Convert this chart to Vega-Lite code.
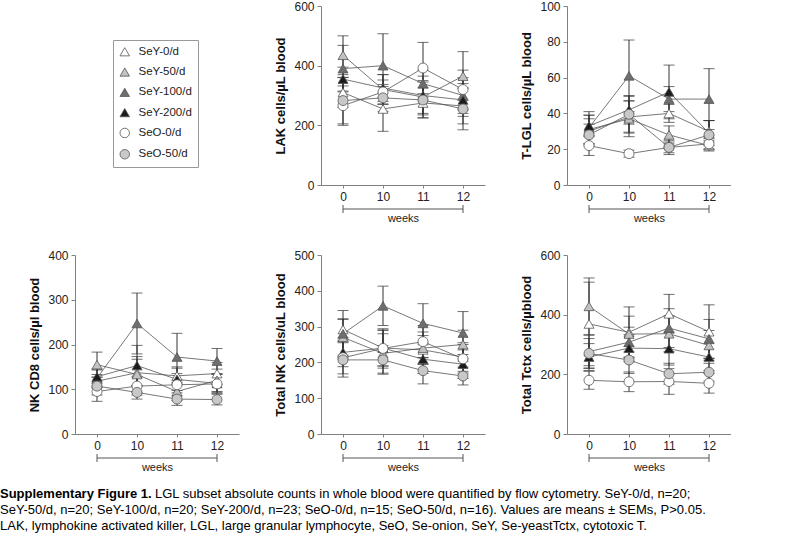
{
  "$schema": "https://vega.github.io/schema/vega-lite/v6.json",
  "padding": 0,
  "config": {
    "font": "Liberation Sans",
    "view": {"stroke": null},
    "axis": {"grid": false, "domainColor": "#808080", "tickColor": "#808080", "labelColor": "#222", "labelFontSize": 12, "titleFontSize": 13, "titleFontWeight": "bold", "titleColor": "#111", "labelFont": "Liberation Sans", "titleFont": "Liberation Sans", "labelOverlap": false},
    "legend": {"labelFont": "Liberation Sans"},
    "text": {"font": "Liberation Sans"}
  },
  "datasets": {
    "lak": [
      {"g": "SeY-0/d", "w": "0", "m": 310, "s": 50}, {"g": "SeY-0/d", "w": "10", "m": 255, "s": 75}, {"g": "SeY-0/d", "w": "11", "m": 275, "s": 50}, {"g": "SeY-0/d", "w": "12", "m": 265, "s": 60},
      {"g": "SeY-50/d", "w": "0", "m": 435, "s": 65}, {"g": "SeY-50/d", "w": "10", "m": 320, "s": 50}, {"g": "SeY-50/d", "w": "11", "m": 295, "s": 55}, {"g": "SeY-50/d", "w": "12", "m": 365, "s": 82},
      {"g": "SeY-100/d", "w": "0", "m": 390, "s": 78}, {"g": "SeY-100/d", "w": "10", "m": 400, "s": 107}, {"g": "SeY-100/d", "w": "11", "m": 340, "s": 45}, {"g": "SeY-100/d", "w": "12", "m": 300, "s": 60},
      {"g": "SeY-200/d", "w": "0", "m": 355, "s": 40}, {"g": "SeY-200/d", "w": "10", "m": 325, "s": 45}, {"g": "SeY-200/d", "w": "11", "m": 300, "s": 65}, {"g": "SeY-200/d", "w": "12", "m": 285, "s": 55},
      {"g": "SeO-0/d", "w": "0", "m": 266, "s": 66}, {"g": "SeO-0/d", "w": "10", "m": 312, "s": 40}, {"g": "SeO-0/d", "w": "11", "m": 392, "s": 86}, {"g": "SeO-0/d", "w": "12", "m": 320, "s": 65},
      {"g": "SeO-50/d", "w": "0", "m": 283, "s": 78}, {"g": "SeO-50/d", "w": "10", "m": 292, "s": 45}, {"g": "SeO-50/d", "w": "11", "m": 285, "s": 60}, {"g": "SeO-50/d", "w": "12", "m": 255, "s": 70}
    ],
    "tlgl": [
      {"g": "SeY-0/d", "w": "0", "m": 30, "s": 7}, {"g": "SeY-0/d", "w": "10", "m": 38, "s": 9}, {"g": "SeY-0/d", "w": "11", "m": 40, "s": 5}, {"g": "SeY-0/d", "w": "12", "m": 30, "s": 6},
      {"g": "SeY-50/d", "w": "0", "m": 31, "s": 8}, {"g": "SeY-50/d", "w": "10", "m": 37, "s": 10}, {"g": "SeY-50/d", "w": "11", "m": 28, "s": 5}, {"g": "SeY-50/d", "w": "12", "m": 22, "s": 3},
      {"g": "SeY-100/d", "w": "0", "m": 32, "s": 9}, {"g": "SeY-100/d", "w": "10", "m": 61, "s": 20}, {"g": "SeY-100/d", "w": "11", "m": 48, "s": 7}, {"g": "SeY-100/d", "w": "12", "m": 48, "s": 17},
      {"g": "SeY-200/d", "w": "0", "m": 33, "s": 6}, {"g": "SeY-200/d", "w": "10", "m": 42, "s": 8}, {"g": "SeY-200/d", "w": "11", "m": 52, "s": 15}, {"g": "SeY-200/d", "w": "12", "m": 29, "s": 7},
      {"g": "SeO-0/d", "w": "0", "m": 22, "s": 5.5}, {"g": "SeO-0/d", "w": "10", "m": 17.5, "s": 2}, {"g": "SeO-0/d", "w": "11", "m": 21, "s": 3}, {"g": "SeO-0/d", "w": "12", "m": 23, "s": 3},
      {"g": "SeO-50/d", "w": "0", "m": 28, "s": 6}, {"g": "SeO-50/d", "w": "10", "m": 39.5, "s": 10}, {"g": "SeO-50/d", "w": "11", "m": 21, "s": 4}, {"g": "SeO-50/d", "w": "12", "m": 28, "s": 8}
    ],
    "nkcd8": [
      {"g": "SeY-0/d", "w": "0", "m": 118, "s": 15}, {"g": "SeY-0/d", "w": "10", "m": 137, "s": 30}, {"g": "SeY-0/d", "w": "11", "m": 130, "s": 20}, {"g": "SeY-0/d", "w": "12", "m": 135, "s": 25},
      {"g": "SeY-50/d", "w": "0", "m": 155, "s": 28}, {"g": "SeY-50/d", "w": "10", "m": 133, "s": 40}, {"g": "SeY-50/d", "w": "11", "m": 95, "s": 20}, {"g": "SeY-50/d", "w": "12", "m": 120, "s": 25},
      {"g": "SeY-100/d", "w": "0", "m": 125, "s": 20}, {"g": "SeY-100/d", "w": "10", "m": 247, "s": 68}, {"g": "SeY-100/d", "w": "11", "m": 172, "s": 53}, {"g": "SeY-100/d", "w": "12", "m": 163, "s": 28},
      {"g": "SeY-200/d", "w": "0", "m": 128, "s": 15}, {"g": "SeY-200/d", "w": "10", "m": 153, "s": 45}, {"g": "SeY-200/d", "w": "11", "m": 122, "s": 25}, {"g": "SeY-200/d", "w": "12", "m": 113, "s": 20},
      {"g": "SeO-0/d", "w": "0", "m": 95, "s": 22}, {"g": "SeO-0/d", "w": "10", "m": 107, "s": 20}, {"g": "SeO-0/d", "w": "11", "m": 110, "s": 25}, {"g": "SeO-0/d", "w": "12", "m": 112, "s": 22},
      {"g": "SeO-50/d", "w": "0", "m": 107, "s": 20}, {"g": "SeO-50/d", "w": "10", "m": 93, "s": 15}, {"g": "SeO-50/d", "w": "11", "m": 78, "s": 14}, {"g": "SeO-50/d", "w": "12", "m": 77, "s": 12}
    ],
    "totnk": [
      {"g": "SeY-0/d", "w": "0", "m": 292, "s": 30}, {"g": "SeY-0/d", "w": "10", "m": 240, "s": 50}, {"g": "SeY-0/d", "w": "11", "m": 235, "s": 40}, {"g": "SeY-0/d", "w": "12", "m": 215, "s": 40},
      {"g": "SeY-50/d", "w": "0", "m": 270, "s": 50}, {"g": "SeY-50/d", "w": "10", "m": 225, "s": 55}, {"g": "SeY-50/d", "w": "11", "m": 240, "s": 45}, {"g": "SeY-50/d", "w": "12", "m": 250, "s": 40},
      {"g": "SeY-100/d", "w": "0", "m": 280, "s": 65}, {"g": "SeY-100/d", "w": "10", "m": 358, "s": 55}, {"g": "SeY-100/d", "w": "11", "m": 309, "s": 55}, {"g": "SeY-100/d", "w": "12", "m": 282, "s": 60},
      {"g": "SeY-200/d", "w": "0", "m": 228, "s": 40}, {"g": "SeY-200/d", "w": "10", "m": 240, "s": 50}, {"g": "SeY-200/d", "w": "11", "m": 209, "s": 40}, {"g": "SeY-200/d", "w": "12", "m": 195, "s": 40},
      {"g": "SeO-0/d", "w": "0", "m": 213, "s": 45}, {"g": "SeO-0/d", "w": "10", "m": 239, "s": 55}, {"g": "SeO-0/d", "w": "11", "m": 258, "s": 45}, {"g": "SeO-0/d", "w": "12", "m": 210, "s": 40},
      {"g": "SeO-50/d", "w": "0", "m": 207, "s": 48}, {"g": "SeO-50/d", "w": "10", "m": 207, "s": 40}, {"g": "SeO-50/d", "w": "11", "m": 177, "s": 37}, {"g": "SeO-50/d", "w": "12", "m": 162, "s": 25}
    ],
    "tctx": [
      {"g": "SeY-0/d", "w": "0", "m": 369, "s": 140}, {"g": "SeY-0/d", "w": "10", "m": 341, "s": 85}, {"g": "SeY-0/d", "w": "11", "m": 403, "s": 65}, {"g": "SeY-0/d", "w": "12", "m": 343, "s": 90},
      {"g": "SeY-50/d", "w": "0", "m": 428, "s": 95}, {"g": "SeY-50/d", "w": "10", "m": 335, "s": 60}, {"g": "SeY-50/d", "w": "11", "m": 336, "s": 60}, {"g": "SeY-50/d", "w": "12", "m": 297, "s": 50},
      {"g": "SeY-100/d", "w": "0", "m": 276, "s": 55}, {"g": "SeY-100/d", "w": "10", "m": 308, "s": 50}, {"g": "SeY-100/d", "w": "11", "m": 355, "s": 65}, {"g": "SeY-100/d", "w": "12", "m": 319, "s": 65},
      {"g": "SeY-200/d", "w": "0", "m": 258, "s": 45}, {"g": "SeY-200/d", "w": "10", "m": 288, "s": 45}, {"g": "SeY-200/d", "w": "11", "m": 286, "s": 55}, {"g": "SeY-200/d", "w": "12", "m": 258, "s": 45},
      {"g": "SeO-0/d", "w": "0", "m": 180, "s": 30}, {"g": "SeO-0/d", "w": "10", "m": 175, "s": 33}, {"g": "SeO-0/d", "w": "11", "m": 176, "s": 43}, {"g": "SeO-0/d", "w": "12", "m": 170, "s": 33},
      {"g": "SeO-50/d", "w": "0", "m": 270, "s": 50}, {"g": "SeO-50/d", "w": "10", "m": 248, "s": 45}, {"g": "SeO-50/d", "w": "11", "m": 202, "s": 35}, {"g": "SeO-50/d", "w": "12", "m": 207, "s": 30}
    ]
  },
  "columns": 3,
  "bounds": "flush",
  "align": "all",
  "spacing": {"row": 70, "column": 82},
  "concat": [
    {"width": 164, "height": 179, "data": {"values": [{"z": 1}]}, "mark": {"type": "point", "opacity": 0}, "encoding": {}},
    {
      "data": {"name": "lak"}, "width": 164, "height": 179,
      "layer": [
        {"mark": {"type": "errorbar", "ticks": {"size": 11}, "color": "#333"},
         "encoding": {
           "x": {"field": "w", "type": "ordinal", "sort": ["0", "10", "11", "12"], "scale": {"type": "point", "padding": 0.55, "domain": ["0", "10", "11", "12"]}, "title": "weeks", "axis": {"labelAngle": 0, "tickSize": 3, "labelPadding": 3, "titlePadding": 10, "titleFontWeight": "normal", "titleFontSize": 11, "titleColor": "#222"}},
           "y": {"field": "m", "type": "quantitative", "scale": {"domain": [0, 600], "nice": false}, "title": "LAK cells/µL blood", "axis": {"values": [0, 200, 400, 600], "tickSize": 4, "labelPadding": 3, "titlePadding": 6, "labelOverlap": false, "labelBound": false}},
           "yError": {"field": "s"}}},
        {"mark": {"type": "line", "color": "#555", "strokeWidth": 0.8},
         "encoding": {"x": {"field": "w", "type": "ordinal", "sort": ["0", "10", "11", "12"], "title": "weeks"}, "y": {"field": "m", "type": "quantitative", "title": "LAK cells/µL blood", "axis": {"values": [0, 200, 400, 600], "tickSize": 4, "labelPadding": 3, "titlePadding": 6, "labelOverlap": false, "labelBound": false}}, "detail": {"field": "g"}}},
        {"mark": {"type": "point", "filled": true, "strokeWidth": 0.8, "size": 100, "opacity": 1},
         "encoding": {
           "x": {"field": "w", "type": "ordinal", "sort": ["0", "10", "11", "12"], "title": "weeks"},
           "y": {"field": "m", "type": "quantitative", "title": "LAK cells/µL blood", "axis": {"values": [0, 200, 400, 600], "tickSize": 4, "labelPadding": 3, "titlePadding": 6, "labelOverlap": false, "labelBound": false}},
           "fill": {"field": "g", "type": "nominal", "scale": {"domain": ["SeY-0/d", "SeY-50/d", "SeY-100/d", "SeY-200/d", "SeO-0/d", "SeO-50/d"], "range": ["#ffffff", "#c2c2c2", "#6e6e6e", "#1c1c1c", "#ffffff", "#c8c8c8"]}, "legend": {"title": null, "orient": "none", "legendX": 38, "legendY": 34, "strokeColor": "#999", "fillColor": "#fff", "padding": 6, "rowPadding": 7.3, "labelFontSize": 11.5, "labelColor": "#222", "labelOffset": 8, "symbolSize": 90, "symbolStrokeWidth": 0.8}},
           "stroke": {"field": "g", "type": "nominal", "scale": {"domain": ["SeY-0/d", "SeY-50/d", "SeY-100/d", "SeY-200/d", "SeO-0/d", "SeO-50/d"], "range": ["#555555", "#555555", "#555555", "#555555", "#555555", "#555555"]}, "legend": {"title": null, "orient": "none", "legendX": 38, "legendY": 34, "strokeColor": "#999", "fillColor": "#fff", "padding": 6, "rowPadding": 7.3, "labelFontSize": 11.5, "labelColor": "#222", "labelOffset": 8, "symbolSize": 90, "symbolStrokeWidth": 0.8}},
           "shape": {"field": "g", "type": "nominal", "scale": {"domain": ["SeY-0/d", "SeY-50/d", "SeY-100/d", "SeY-200/d", "SeO-0/d", "SeO-50/d"], "range": ["triangle-up", "triangle-up", "triangle-up", "triangle-up", "circle", "circle"]}, "legend": {"title": null, "orient": "none", "legendX": 38, "legendY": 34, "strokeColor": "#999", "fillColor": "#fff", "padding": 6, "rowPadding": 7.3, "labelFontSize": 11.5, "labelColor": "#222", "labelOffset": 8, "symbolSize": 90, "symbolStrokeWidth": 0.8}}}},
        {"data": {"values": [{"w": "0", "w2": "12"}]}, "mark": {"type": "rule", "color": "#555", "yOffset": 24},
         "encoding": {"x": {"field": "w", "type": "ordinal", "sort": ["0", "10", "11", "12"], "title": "weeks"}, "x2": {"field": "w2"}, "y": {"value": "height"}}},
        {"data": {"values": [{"w": "0"}, {"w": "12"}]}, "mark": {"type": "rule", "color": "#555", "yOffset": 20, "y2Offset": 28},
         "encoding": {"x": {"field": "w", "type": "ordinal", "sort": ["0", "10", "11", "12"], "title": "weeks"}, "y": {"value": "height"}, "y2": {"value": "height"}}}
      ]
    },
    {
      "data": {"name": "tlgl"}, "width": 164, "height": 179,
      "layer": [
        {"mark": {"type": "errorbar", "ticks": {"size": 11}, "color": "#333"},
         "encoding": {
           "x": {"field": "w", "type": "ordinal", "sort": ["0", "10", "11", "12"], "scale": {"type": "point", "padding": 0.55, "domain": ["0", "10", "11", "12"]}, "title": "weeks", "axis": {"labelAngle": 0, "tickSize": 3, "labelPadding": 3, "titlePadding": 10, "titleFontWeight": "normal", "titleFontSize": 11, "titleColor": "#222"}},
           "y": {"field": "m", "type": "quantitative", "scale": {"domain": [0, 100], "nice": false}, "title": "T-LGL cells/µL blood", "axis": {"values": [0, 20, 40, 60, 80, 100], "tickSize": 4, "labelPadding": 3, "titlePadding": 6, "labelOverlap": false, "labelBound": false}},
           "yError": {"field": "s"}}},
        {"mark": {"type": "line", "color": "#555", "strokeWidth": 0.8},
         "encoding": {"x": {"field": "w", "type": "ordinal", "sort": ["0", "10", "11", "12"], "title": "weeks"}, "y": {"field": "m", "type": "quantitative", "title": "T-LGL cells/µL blood", "axis": {"values": [0, 20, 40, 60, 80, 100], "tickSize": 4, "labelPadding": 3, "titlePadding": 6, "labelOverlap": false, "labelBound": false}}, "detail": {"field": "g"}}},
        {"mark": {"type": "point", "filled": true, "strokeWidth": 0.8, "size": 100, "opacity": 1},
         "encoding": {
           "x": {"field": "w", "type": "ordinal", "sort": ["0", "10", "11", "12"], "title": "weeks"},
           "y": {"field": "m", "type": "quantitative", "title": "T-LGL cells/µL blood", "axis": {"values": [0, 20, 40, 60, 80, 100], "tickSize": 4, "labelPadding": 3, "titlePadding": 6, "labelOverlap": false, "labelBound": false}},
           "fill": {"field": "g", "type": "nominal", "scale": {"domain": ["SeY-0/d", "SeY-50/d", "SeY-100/d", "SeY-200/d", "SeO-0/d", "SeO-50/d"], "range": ["#ffffff", "#c2c2c2", "#6e6e6e", "#1c1c1c", "#ffffff", "#c8c8c8"]}, "legend": {"title": null, "orient": "none", "legendX": 38, "legendY": 34, "strokeColor": "#999", "fillColor": "#fff", "padding": 6, "rowPadding": 7.3, "labelFontSize": 11.5, "labelColor": "#222", "labelOffset": 8, "symbolSize": 90, "symbolStrokeWidth": 0.8}},
           "stroke": {"field": "g", "type": "nominal", "scale": {"domain": ["SeY-0/d", "SeY-50/d", "SeY-100/d", "SeY-200/d", "SeO-0/d", "SeO-50/d"], "range": ["#555555", "#555555", "#555555", "#555555", "#555555", "#555555"]}, "legend": {"title": null, "orient": "none", "legendX": 38, "legendY": 34, "strokeColor": "#999", "fillColor": "#fff", "padding": 6, "rowPadding": 7.3, "labelFontSize": 11.5, "labelColor": "#222", "labelOffset": 8, "symbolSize": 90, "symbolStrokeWidth": 0.8}},
           "shape": {"field": "g", "type": "nominal", "scale": {"domain": ["SeY-0/d", "SeY-50/d", "SeY-100/d", "SeY-200/d", "SeO-0/d", "SeO-50/d"], "range": ["triangle-up", "triangle-up", "triangle-up", "triangle-up", "circle", "circle"]}, "legend": {"title": null, "orient": "none", "legendX": 38, "legendY": 34, "strokeColor": "#999", "fillColor": "#fff", "padding": 6, "rowPadding": 7.3, "labelFontSize": 11.5, "labelColor": "#222", "labelOffset": 8, "symbolSize": 90, "symbolStrokeWidth": 0.8}}}},
        {"data": {"values": [{"w": "0", "w2": "12"}]}, "mark": {"type": "rule", "color": "#555", "yOffset": 24},
         "encoding": {"x": {"field": "w", "type": "ordinal", "sort": ["0", "10", "11", "12"], "title": "weeks"}, "x2": {"field": "w2"}, "y": {"value": "height"}}},
        {"data": {"values": [{"w": "0"}, {"w": "12"}]}, "mark": {"type": "rule", "color": "#555", "yOffset": 20, "y2Offset": 28},
         "encoding": {"x": {"field": "w", "type": "ordinal", "sort": ["0", "10", "11", "12"], "title": "weeks"}, "y": {"value": "height"}, "y2": {"value": "height"}}}
      ]
    },
    {
      "data": {"name": "nkcd8"}, "width": 164, "height": 179,
      "layer": [
        {"mark": {"type": "errorbar", "ticks": {"size": 11}, "color": "#333"},
         "encoding": {
           "x": {"field": "w", "type": "ordinal", "sort": ["0", "10", "11", "12"], "scale": {"type": "point", "padding": 0.55, "domain": ["0", "10", "11", "12"]}, "title": "weeks", "axis": {"labelAngle": 0, "tickSize": 3, "labelPadding": 3, "titlePadding": 10, "titleFontWeight": "normal", "titleFontSize": 11, "titleColor": "#222"}},
           "y": {"field": "m", "type": "quantitative", "scale": {"domain": [0, 400], "nice": false}, "title": "NK CD8 cells/µl blood", "axis": {"values": [0, 100, 200, 300, 400], "tickSize": 4, "labelPadding": 3, "titlePadding": 6, "labelOverlap": false, "labelBound": false}},
           "yError": {"field": "s"}}},
        {"mark": {"type": "line", "color": "#555", "strokeWidth": 0.8},
         "encoding": {"x": {"field": "w", "type": "ordinal", "sort": ["0", "10", "11", "12"], "title": "weeks"}, "y": {"field": "m", "type": "quantitative", "title": "NK CD8 cells/µl blood", "axis": {"values": [0, 100, 200, 300, 400], "tickSize": 4, "labelPadding": 3, "titlePadding": 6, "labelOverlap": false, "labelBound": false}}, "detail": {"field": "g"}}},
        {"mark": {"type": "point", "filled": true, "strokeWidth": 0.8, "size": 100, "opacity": 1},
         "encoding": {
           "x": {"field": "w", "type": "ordinal", "sort": ["0", "10", "11", "12"], "title": "weeks"},
           "y": {"field": "m", "type": "quantitative", "title": "NK CD8 cells/µl blood", "axis": {"values": [0, 100, 200, 300, 400], "tickSize": 4, "labelPadding": 3, "titlePadding": 6, "labelOverlap": false, "labelBound": false}},
           "fill": {"field": "g", "type": "nominal", "scale": {"domain": ["SeY-0/d", "SeY-50/d", "SeY-100/d", "SeY-200/d", "SeO-0/d", "SeO-50/d"], "range": ["#ffffff", "#c2c2c2", "#6e6e6e", "#1c1c1c", "#ffffff", "#c8c8c8"]}, "legend": {"title": null, "orient": "none", "legendX": 38, "legendY": 34, "strokeColor": "#999", "fillColor": "#fff", "padding": 6, "rowPadding": 7.3, "labelFontSize": 11.5, "labelColor": "#222", "labelOffset": 8, "symbolSize": 90, "symbolStrokeWidth": 0.8}},
           "stroke": {"field": "g", "type": "nominal", "scale": {"domain": ["SeY-0/d", "SeY-50/d", "SeY-100/d", "SeY-200/d", "SeO-0/d", "SeO-50/d"], "range": ["#555555", "#555555", "#555555", "#555555", "#555555", "#555555"]}, "legend": {"title": null, "orient": "none", "legendX": 38, "legendY": 34, "strokeColor": "#999", "fillColor": "#fff", "padding": 6, "rowPadding": 7.3, "labelFontSize": 11.5, "labelColor": "#222", "labelOffset": 8, "symbolSize": 90, "symbolStrokeWidth": 0.8}},
           "shape": {"field": "g", "type": "nominal", "scale": {"domain": ["SeY-0/d", "SeY-50/d", "SeY-100/d", "SeY-200/d", "SeO-0/d", "SeO-50/d"], "range": ["triangle-up", "triangle-up", "triangle-up", "triangle-up", "circle", "circle"]}, "legend": {"title": null, "orient": "none", "legendX": 38, "legendY": 34, "strokeColor": "#999", "fillColor": "#fff", "padding": 6, "rowPadding": 7.3, "labelFontSize": 11.5, "labelColor": "#222", "labelOffset": 8, "symbolSize": 90, "symbolStrokeWidth": 0.8}}}},
        {"data": {"values": [{"w": "0", "w2": "12"}]}, "mark": {"type": "rule", "color": "#555", "yOffset": 24},
         "encoding": {"x": {"field": "w", "type": "ordinal", "sort": ["0", "10", "11", "12"], "title": "weeks"}, "x2": {"field": "w2"}, "y": {"value": "height"}}},
        {"data": {"values": [{"w": "0"}, {"w": "12"}]}, "mark": {"type": "rule", "color": "#555", "yOffset": 20, "y2Offset": 28},
         "encoding": {"x": {"field": "w", "type": "ordinal", "sort": ["0", "10", "11", "12"], "title": "weeks"}, "y": {"value": "height"}, "y2": {"value": "height"}}}
      ]
    },
    {
      "data": {"name": "totnk"}, "width": 164, "height": 179,
      "layer": [
        {"mark": {"type": "errorbar", "ticks": {"size": 11}, "color": "#333"},
         "encoding": {
           "x": {"field": "w", "type": "ordinal", "sort": ["0", "10", "11", "12"], "scale": {"type": "point", "padding": 0.55, "domain": ["0", "10", "11", "12"]}, "title": "weeks", "axis": {"labelAngle": 0, "tickSize": 3, "labelPadding": 3, "titlePadding": 10, "titleFontWeight": "normal", "titleFontSize": 11, "titleColor": "#222"}},
           "y": {"field": "m", "type": "quantitative", "scale": {"domain": [0, 500], "nice": false}, "title": "Total NK cells/uL blood", "axis": {"values": [0, 100, 200, 300, 400, 500], "tickSize": 4, "labelPadding": 3, "titlePadding": 6, "labelOverlap": false, "labelBound": false}},
           "yError": {"field": "s"}}},
        {"mark": {"type": "line", "color": "#555", "strokeWidth": 0.8},
         "encoding": {"x": {"field": "w", "type": "ordinal", "sort": ["0", "10", "11", "12"], "title": "weeks"}, "y": {"field": "m", "type": "quantitative", "title": "Total NK cells/uL blood", "axis": {"values": [0, 100, 200, 300, 400, 500], "tickSize": 4, "labelPadding": 3, "titlePadding": 6, "labelOverlap": false, "labelBound": false}}, "detail": {"field": "g"}}},
        {"mark": {"type": "point", "filled": true, "strokeWidth": 0.8, "size": 100, "opacity": 1},
         "encoding": {
           "x": {"field": "w", "type": "ordinal", "sort": ["0", "10", "11", "12"], "title": "weeks"},
           "y": {"field": "m", "type": "quantitative", "title": "Total NK cells/uL blood", "axis": {"values": [0, 100, 200, 300, 400, 500], "tickSize": 4, "labelPadding": 3, "titlePadding": 6, "labelOverlap": false, "labelBound": false}},
           "fill": {"field": "g", "type": "nominal", "scale": {"domain": ["SeY-0/d", "SeY-50/d", "SeY-100/d", "SeY-200/d", "SeO-0/d", "SeO-50/d"], "range": ["#ffffff", "#c2c2c2", "#6e6e6e", "#1c1c1c", "#ffffff", "#c8c8c8"]}, "legend": {"title": null, "orient": "none", "legendX": 38, "legendY": 34, "strokeColor": "#999", "fillColor": "#fff", "padding": 6, "rowPadding": 7.3, "labelFontSize": 11.5, "labelColor": "#222", "labelOffset": 8, "symbolSize": 90, "symbolStrokeWidth": 0.8}},
           "stroke": {"field": "g", "type": "nominal", "scale": {"domain": ["SeY-0/d", "SeY-50/d", "SeY-100/d", "SeY-200/d", "SeO-0/d", "SeO-50/d"], "range": ["#555555", "#555555", "#555555", "#555555", "#555555", "#555555"]}, "legend": {"title": null, "orient": "none", "legendX": 38, "legendY": 34, "strokeColor": "#999", "fillColor": "#fff", "padding": 6, "rowPadding": 7.3, "labelFontSize": 11.5, "labelColor": "#222", "labelOffset": 8, "symbolSize": 90, "symbolStrokeWidth": 0.8}},
           "shape": {"field": "g", "type": "nominal", "scale": {"domain": ["SeY-0/d", "SeY-50/d", "SeY-100/d", "SeY-200/d", "SeO-0/d", "SeO-50/d"], "range": ["triangle-up", "triangle-up", "triangle-up", "triangle-up", "circle", "circle"]}, "legend": {"title": null, "orient": "none", "legendX": 38, "legendY": 34, "strokeColor": "#999", "fillColor": "#fff", "padding": 6, "rowPadding": 7.3, "labelFontSize": 11.5, "labelColor": "#222", "labelOffset": 8, "symbolSize": 90, "symbolStrokeWidth": 0.8}}}},
        {"data": {"values": [{"w": "0", "w2": "12"}]}, "mark": {"type": "rule", "color": "#555", "yOffset": 24},
         "encoding": {"x": {"field": "w", "type": "ordinal", "sort": ["0", "10", "11", "12"], "title": "weeks"}, "x2": {"field": "w2"}, "y": {"value": "height"}}},
        {"data": {"values": [{"w": "0"}, {"w": "12"}]}, "mark": {"type": "rule", "color": "#555", "yOffset": 20, "y2Offset": 28},
         "encoding": {"x": {"field": "w", "type": "ordinal", "sort": ["0", "10", "11", "12"], "title": "weeks"}, "y": {"value": "height"}, "y2": {"value": "height"}}}
      ]
    },
    {
      "data": {"name": "tctx"}, "width": 164, "height": 179,
      "layer": [
        {"mark": {"type": "errorbar", "ticks": {"size": 11}, "color": "#333"},
         "encoding": {
           "x": {"field": "w", "type": "ordinal", "sort": ["0", "10", "11", "12"], "scale": {"type": "point", "padding": 0.55, "domain": ["0", "10", "11", "12"]}, "title": "weeks", "axis": {"labelAngle": 0, "tickSize": 3, "labelPadding": 3, "titlePadding": 10, "titleFontWeight": "normal", "titleFontSize": 11, "titleColor": "#222"}},
           "y": {"field": "m", "type": "quantitative", "scale": {"domain": [0, 600], "nice": false}, "title": "Total Tctx cells/µblood", "axis": {"values": [0, 200, 400, 600], "tickSize": 4, "labelPadding": 3, "titlePadding": 6, "labelOverlap": false, "labelBound": false}},
           "yError": {"field": "s"}}},
        {"mark": {"type": "line", "color": "#555", "strokeWidth": 0.8},
         "encoding": {"x": {"field": "w", "type": "ordinal", "sort": ["0", "10", "11", "12"], "title": "weeks"}, "y": {"field": "m", "type": "quantitative", "title": "Total Tctx cells/µblood", "axis": {"values": [0, 200, 400, 600], "tickSize": 4, "labelPadding": 3, "titlePadding": 6, "labelOverlap": false, "labelBound": false}}, "detail": {"field": "g"}}},
        {"mark": {"type": "point", "filled": true, "strokeWidth": 0.8, "size": 100, "opacity": 1},
         "encoding": {
           "x": {"field": "w", "type": "ordinal", "sort": ["0", "10", "11", "12"], "title": "weeks"},
           "y": {"field": "m", "type": "quantitative", "title": "Total Tctx cells/µblood", "axis": {"values": [0, 200, 400, 600], "tickSize": 4, "labelPadding": 3, "titlePadding": 6, "labelOverlap": false, "labelBound": false}},
           "fill": {"field": "g", "type": "nominal", "scale": {"domain": ["SeY-0/d", "SeY-50/d", "SeY-100/d", "SeY-200/d", "SeO-0/d", "SeO-50/d"], "range": ["#ffffff", "#c2c2c2", "#6e6e6e", "#1c1c1c", "#ffffff", "#c8c8c8"]}, "legend": {"title": null, "orient": "none", "legendX": 38, "legendY": 34, "strokeColor": "#999", "fillColor": "#fff", "padding": 6, "rowPadding": 7.3, "labelFontSize": 11.5, "labelColor": "#222", "labelOffset": 8, "symbolSize": 90, "symbolStrokeWidth": 0.8}},
           "stroke": {"field": "g", "type": "nominal", "scale": {"domain": ["SeY-0/d", "SeY-50/d", "SeY-100/d", "SeY-200/d", "SeO-0/d", "SeO-50/d"], "range": ["#555555", "#555555", "#555555", "#555555", "#555555", "#555555"]}, "legend": {"title": null, "orient": "none", "legendX": 38, "legendY": 34, "strokeColor": "#999", "fillColor": "#fff", "padding": 6, "rowPadding": 7.3, "labelFontSize": 11.5, "labelColor": "#222", "labelOffset": 8, "symbolSize": 90, "symbolStrokeWidth": 0.8}},
           "shape": {"field": "g", "type": "nominal", "scale": {"domain": ["SeY-0/d", "SeY-50/d", "SeY-100/d", "SeY-200/d", "SeO-0/d", "SeO-50/d"], "range": ["triangle-up", "triangle-up", "triangle-up", "triangle-up", "circle", "circle"]}, "legend": {"title": null, "orient": "none", "legendX": 38, "legendY": 34, "strokeColor": "#999", "fillColor": "#fff", "padding": 6, "rowPadding": 7.3, "labelFontSize": 11.5, "labelColor": "#222", "labelOffset": 8, "symbolSize": 90, "symbolStrokeWidth": 0.8}}}},
        {"data": {"values": [{"w": "0", "w2": "12"}]}, "mark": {"type": "rule", "color": "#555", "yOffset": 24},
         "encoding": {"x": {"field": "w", "type": "ordinal", "sort": ["0", "10", "11", "12"], "title": "weeks"}, "x2": {"field": "w2"}, "y": {"value": "height"}}},
        {"data": {"values": [{"w": "0"}, {"w": "12"}]}, "mark": {"type": "rule", "color": "#555", "yOffset": 20, "y2Offset": 28},
         "encoding": {"x": {"field": "w", "type": "ordinal", "sort": ["0", "10", "11", "12"], "title": "weeks"}, "y": {"value": "height"}, "y2": {"value": "height"}}}
      ]
    },
    {
      "width": 164, "height": 48,
      "data": {"values": [
        {"ln": 1, "k": "b", "t": "Supplementary Figure 1."},
        {"ln": 1, "k": "r", "t": "LGL subset absolute counts in whole blood were quantified by flow cytometry. SeY-0/d, n=20;"},
        {"ln": 2, "k": "n", "t": "SeY-50/d, n=20; SeY-100/d, n=20; SeY-200/d, n=23; SeO-0/d, n=15; SeO-50/d, n=16). Values are means ± SEMs, P>0.05."},
        {"ln": 3, "k": "n", "t": "LAK, lymphokine activated killer, LGL, large granular lymphocyte, SeO, Se-onion, SeY, Se-yeastTctx, cytotoxic T."}
      ]},
      "layer": [
        {"transform": [{"filter": "datum.k === 'b'"}], "mark": {"type": "text", "align": "left", "baseline": "middle", "fontSize": 13, "fontWeight": "bold", "color": "#000", "dy": -18.5},
         "encoding": {"y": {"field": "ln", "type": "ordinal", "axis": null, "scale": {"domain": [1, 2, 3]}}, "x": {"value": -75}, "text": {"field": "t"}}},
        {"transform": [{"filter": "datum.k === 'r'"}], "mark": {"type": "text", "align": "left", "baseline": "middle", "fontSize": 13, "color": "#000", "dx": 155, "dy": -18.5},
         "encoding": {"y": {"field": "ln", "type": "ordinal", "axis": null, "scale": {"domain": [1, 2, 3]}}, "x": {"value": -75}, "text": {"field": "t"}}},
        {"transform": [{"filter": "datum.k === 'n'"}], "mark": {"type": "text", "align": "left", "baseline": "middle", "fontSize": 13, "color": "#000", "dy": -18.5},
         "encoding": {"y": {"field": "ln", "type": "ordinal", "axis": null, "scale": {"domain": [1, 2, 3]}}, "x": {"value": -75}, "text": {"field": "t"}}}
      ]
    }
  ]
}
